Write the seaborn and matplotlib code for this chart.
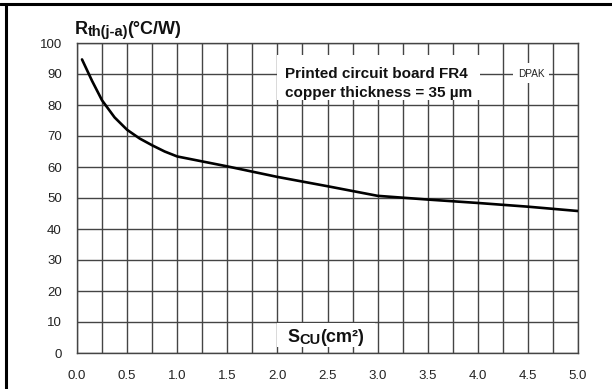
import numpy as np
import pandas as pd
import matplotlib
matplotlib.use("Agg")
import matplotlib.pyplot as plt
from matplotlib.patches import Rectangle
from matplotlib.transforms import IdentityTransform
from matplotlib.lines import Line2D
import seaborn as sns

# Thermal resistance junction-to-ambient vs copper area (DPAK on FR4, 35 um Cu)
s_cu = [0.05, 0.15, 0.25, 0.375, 0.5, 0.625, 0.75, 0.875, 1.0, 1.5, 2.0, 2.5, 3.0, 3.5, 4.0, 4.5, 5.0]
r_th = [94.7, 87.8, 81.5, 76.0, 72.0, 69.2, 67.0, 65.0, 63.4, 60.2, 56.8, 53.8, 50.7, 49.5, 48.4, 47.2, 45.8]

x_major = [0.0, 0.5, 1.0, 1.5, 2.0, 2.5, 3.0, 3.5, 4.0, 4.5, 5.0]
x_minor = [0.25, 0.75, 1.25, 1.75, 2.25, 2.75, 3.25, 3.75, 4.25, 4.75]
y_major = [0, 10, 20, 30, 40, 50, 60, 70, 80, 90, 100]
x_labels = ["0.0", "0.5", "1.0", "1.5", "2.0", "2.5", "3.0", "3.5", "4.0", "4.5", "5.0"]

note_lines = ["Printed circuit board FR4", "copper thickness = 35 µm"]
curve_name = "DPAK"

df = pd.DataFrame({"S_CU": s_cu, "R_th": r_th})

sns.set_theme(style="white")
plt.rcParams["font.family"] = ["Liberation Sans", "DejaVu Sans"]

W, H = 612, 389
fig = plt.figure(figsize=(W / 100, H / 100), dpi=100)
ax = fig.add_axes([77 / W, 1 - 353 / H, (578 - 77) / W, (353 - 43) / H])

grid_c = "#444444"
ax.set_xlim(0, 5)
ax.set_ylim(0, 100)
ax.set_xticks(x_major)
ax.set_xticklabels(x_labels)
ax.set_xticks(x_minor, minor=True)
ax.set_yticks(y_major)
ax.grid(True, which="both", color=grid_c, lw=1.0, zorder=0)
ax.set_axisbelow(True)
ax.tick_params(axis="both", which="both", length=0)
ax.tick_params(axis="x", pad=12, labelsize=9.5, labelcolor="#222222")
ax.tick_params(axis="y", pad=11, labelsize=9.5, labelcolor="#222222")
for sp in ax.spines.values():
    sp.set_color(grid_c)
    sp.set_linewidth(1.0)

sns.lineplot(data=df, x="S_CU", y="R_th", ax=ax, color="black", lw=1.9, zorder=5)
ax.set_xlabel("")
ax.set_ylabel("")

# white panels behind the annotations
ax.add_patch(Rectangle((2.0, 81.6), 2.02, 14.6, facecolor="white", edgecolor="none", zorder=3))
ax.add_patch(Rectangle((4.35, 87.0), 0.36, 6.5, facecolor="white", edgecolor="none", zorder=3))
ax.add_patch(Rectangle((2.0, 1.9), 0.97, 7.9, facecolor="white", edgecolor="none", zorder=3))

ax.text(4.54, 90, curve_name, ha="center", va="center", fontsize=7.2, color="#222222", zorder=4)

renderer = fig.canvas.get_renderer()


def put(x, y_from_top, s, size, weight="bold", kern=0.0):
    t = fig.text(x, H - y_from_top, s, transform=IdentityTransform(), fontsize=size,
                 fontweight=weight, va="baseline", ha="left", color="#111111", zorder=10)
    return x + t.get_window_extent(renderer).width + kern


put(285, 77.5, note_lines[0], 11.0)
put(285, 96.5, note_lines[1], 11.0)

# y-axis title: R_th(j-a)(°C/W)
x = put(75, 34, "R", 13)
x = put(x, 36, "th(j-a)", 10.5, kern=-1)
put(x, 34, "(°C/W)", 13)

# x-axis title: S_CU(cm²)
x = put(287, 342, "S", 13)
x = put(x, 344, "CU", 10.5)
put(x, 342, "(cm²)", 13)

# outer frame (top and left edges)
fig.add_artist(Line2D([0, W], [H - 4, H - 4], transform=IdentityTransform(), color="black", lw=2.2))
fig.add_artist(Line2D([6, 6], [0, H - 4], transform=IdentityTransform(), color="black", lw=2.2))

fig.savefig("out.png", dpi=100, facecolor="white")
